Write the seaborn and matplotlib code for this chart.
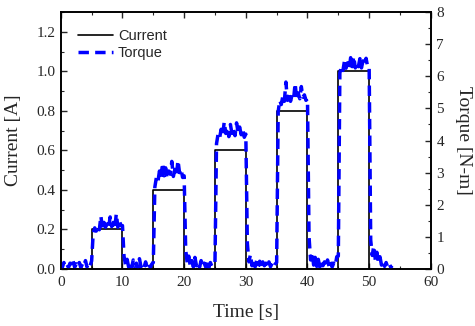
import numpy as np
import pandas as pd
import matplotlib
matplotlib.use("Agg")
import matplotlib.pyplot as plt
from matplotlib.ticker import MultipleLocator, FormatStrFormatter
from matplotlib.lines import Line2D
import seaborn as sns

# ---- data ----
step_time = [0, 5, 10, 15, 20, 25, 30, 35, 40, 45, 50, 55]
step_current = [0.0, 0.2, 0.0, 0.4, 0.0, 0.6, 0.0, 0.8, 0.0, 1.0, 0.0, 0.0]

torque_0_5 = [0.16, 0.05, 0.20, 0.07, 0.14, 0.04, 0.18, 0.08, 0.24, 0.05,
              0.16, 0.07, 0.20, 0.04, 0.15, 0.08, 0.26, 0.06, 0.18, 0.10]
torque_5_10 = [0.25, 1.10, 1.28, 1.18, 1.35, 1.22, 1.65, 1.25, 1.45, 1.30,
               1.40, 1.28, 1.62, 1.32, 1.45, 1.25, 1.72, 1.30, 1.50, 1.35]
torque_10_15 = [1.35, 0.40, 0.12, 0.30, 0.06, 0.22, 0.05, 0.28, 0.08, 0.18,
                0.04, 0.32, 0.07, 0.16, 0.05, 0.22, 0.06, 0.18, 0.04, 0.15]
torque_15_20 = [0.20, 2.55, 2.85, 2.72, 3.05, 2.85, 3.30, 2.90, 3.15, 2.82,
                3.05, 2.95, 3.35, 2.88, 3.10, 2.92, 3.38, 3.00, 3.12, 2.85]
torque_20_25 = [2.90, 0.60, 0.18, 0.40, 0.08, 0.26, 0.06, 0.36, 0.10, 0.20,
                0.05, 0.26, 0.08, 0.18, 0.06, 0.24, 0.04, 0.20, 0.08, 0.16]
torque_25_30 = [0.20, 3.90, 4.20, 4.08, 4.35, 4.15, 4.58, 4.22, 4.40, 4.12,
                4.50, 4.22, 4.38, 4.15, 4.55, 4.25, 4.42, 4.18, 4.35, 4.10]
torque_30_35 = [4.20, 0.80, 0.22, 0.45, 0.10, 0.30, 0.06, 0.26, 0.08, 0.24,
                0.05, 0.22, 0.10, 0.18, 0.04, 0.22, 0.07, 0.17, 0.06, 0.15]
torque_35_40 = [0.20, 4.90, 5.25, 5.12, 5.38, 5.22, 5.82, 5.25, 5.48, 5.22,
                5.42, 5.30, 5.78, 5.26, 5.48, 5.30, 5.68, 5.35, 5.42, 5.25]
torque_40_45 = [5.30, 1.00, 0.28, 0.52, 0.12, 0.36, 0.08, 0.30, 0.06, 0.26,
                0.10, 0.22, 0.05, 0.28, 0.08, 0.24, 0.06, 0.18, 0.10, 0.38]
torque_45_50 = [0.40, 6.10, 6.32, 6.18, 6.48, 6.25, 6.42, 6.22, 6.58, 6.30,
                6.62, 6.26, 6.44, 6.30, 6.55, 6.26, 6.48, 6.35, 6.56, 6.30]
torque_50_54 = [6.30, 0.90, 0.42, 0.72, 0.28, 0.52, 0.22, 0.38, 0.12, 0.26,
                0.08, 0.20, 0.06, 0.16, 0.05, 0.10]

torque = (torque_0_5 + torque_5_10 + torque_10_15 + torque_15_20 + torque_20_25
          + torque_25_30 + torque_30_35 + torque_35_40 + torque_40_45
          + torque_45_50 + torque_50_54)
sample_time = list(np.arange(len(torque)) * 0.25)

cur_df = pd.DataFrame({"t": step_time, "I": step_current})
tq_df = pd.DataFrame({"t": sample_time, "T": torque})

# ---- style ----
sns.set_style("ticks")
plt.rcParams["font.family"] = ["Liberation Serif", "DejaVu Serif"]
plt.rcParams["xtick.direction"] = "in"
plt.rcParams["ytick.direction"] = "in"

fig = plt.figure(figsize=(4.75, 3.26), dpi=100)
ax = fig.add_axes([0.128, 0.175, 0.779, 0.788])
ax2 = ax.twinx()

sns.lineplot(data=cur_df, x="t", y="I", ax=ax, color="black", linewidth=1.2,
             drawstyle="steps-post", errorbar=None, sort=False)
sns.lineplot(data=tq_df, x="t", y="T", ax=ax2, color="#0000ff", linewidth=2.5,
             linestyle=(0, (3, 1.8)), errorbar=None, sort=False)

ax.set_xlim(0, 60)
ax.set_ylim(0, 1.3)
ax2.set_ylim(0, 8)
ax.xaxis.set_major_locator(MultipleLocator(10))
ax.xaxis.set_minor_locator(MultipleLocator(5))
ax.yaxis.set_major_locator(MultipleLocator(0.2))
ax.yaxis.set_minor_locator(MultipleLocator(0.1))
ax2.yaxis.set_major_locator(MultipleLocator(1))
ax2.yaxis.set_minor_locator(MultipleLocator(0.5))
ax.yaxis.set_major_formatter(FormatStrFormatter("%.1f"))

ax.tick_params(axis="both", which="major", direction="in", length=4,
               width=1, labelsize=11, top=True, pad=4)
ax.tick_params(axis="x", which="major", pad=5)
ax.tick_params(axis="both", which="minor", direction="in", length=2.5,
               width=0.8, top=True)
ax.tick_params(axis="y", right=False, which="both")
ax2.tick_params(axis="y", which="major", direction="in", length=4, width=1,
                labelsize=11, pad=4)
ax2.tick_params(axis="y", which="minor", direction="in", length=2.5, width=0.8)

ax.set_xlabel("Time [s]", fontsize=14, labelpad=11)
ax.set_ylabel("Current [A]", fontsize=14, labelpad=10)
ax2.set_ylabel("Torque [N-m]", fontsize=14, rotation=270, labelpad=20)

for a in (ax, ax2):
    for s in a.spines.values():
        s.set_linewidth(1.2)
        s.set_color("black")

handles = [Line2D([], [], color="black", linewidth=1.2),
           Line2D([], [], color="#0000ff", linewidth=2.5, linestyle=(0, (3, 1.8)))]
leg = ax2.legend(handles, ["Current", "Torque"], loc="upper left", frameon=False,
                 prop={"family": "Liberation Sans", "size": 10.5},
                 handlelength=2.4, handletextpad=0.35, labelspacing=0.2,
                 borderaxespad=0.77)

fig.savefig("out.png", dpi=100)
